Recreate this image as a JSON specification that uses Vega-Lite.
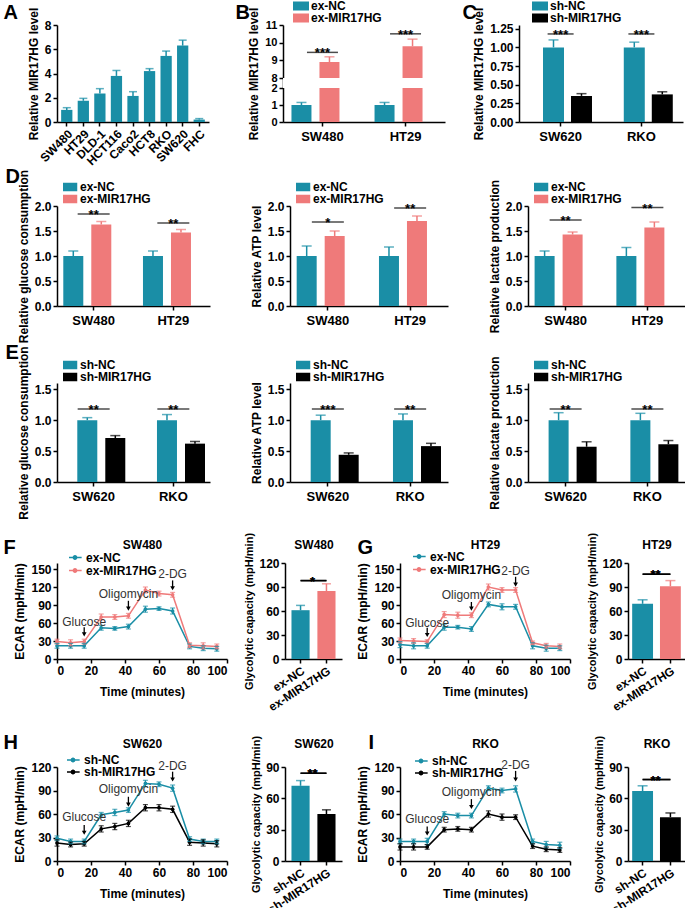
{
"$schema":"https://vega.github.io/schema/vega-lite/v6.json",
"background":"white",
"padding":{"left":3,"top":1,"right":0,"bottom":0},
"spacing":12,
"resolve":{"scale":{"color":"independent"},"legend":{"color":"independent"}},
"vconcat":[
{"spacing":-1,"resolve":{"scale":{"color":"independent"},"legend":{"color":"independent"}},"vconcat":[
{"bounds":"flush","spacing":74,"resolve":{"scale":{"color":"independent"},"legend":{"color":"independent"}},"hconcat":[
{"width":152,"height":97,
"data":{"values":[{"cell":"SW480","v":1.0,"hi":1.18},{"cell":"HT29","v":1.75,"hi":1.95},{"cell":"DLD-1","v":2.35,"hi":2.75},{"cell":"HCT116","v":3.8,"hi":4.25},{"cell":"Caco2","v":2.15,"hi":2.5},{"cell":"HCT8","v":4.2,"hi":4.4},{"cell":"RKO","v":5.45,"hi":5.85},{"cell":"SW620","v":6.3,"hi":6.75},{"cell":"FHC","v":0.2,"hi":0.28}]},
"resolve":{"axis":{"x":"independent"}},
"layer":[
{"mark":{"type":"bar","color":"#1a8ea6"},"encoding":{"x":{"field":"cell","type":"nominal","sort":null,"title":null,"scale":{"paddingInner":0.32,"paddingOuter":0.25},"axis":{"labelAngle":-45,"labelFontSize":12}},"y":{"field":"v","type":"quantitative","scale":{"domain":[0,8]},"axis":{"values":[0,2,4,6,8],"format":"d","tickCount":20,"labelOverlap":false},"title":"Relative MIR17HG level"}}},
{"mark":{"type":"rule","color":"#1a8ea6","strokeWidth":1.5},"encoding":{"x":{"field":"cell","type":"nominal","sort":null,"axis":null},"y":{"field":"v","type":"quantitative"},"y2":{"field":"hi"}}},
{"mark":{"type":"tick","orient":"horizontal","color":"#1a8ea6","thickness":1.5,"size":8},"encoding":{"x":{"field":"cell","type":"nominal","sort":null,"axis":{"orient":"top","labels":false,"ticks":false,"domain":false,"title":"A","titleX":-54,"titleY":-7,"titleAlign":"left","titleBaseline":"alphabetic","titleFontSize":20,"titleAngle":0}},"y":{"field":"hi","type":"quantitative"}}}
]},
{"width":162,"height":97,
"data":{"values":[{"cell":"SW480","g":"ex-NC","v":1.0,"hi":1.15},{"cell":"SW480","g":"ex-MIR17HG","v":8.9,"hi":9.2},{"cell":"HT29","g":"ex-NC","v":1.0,"hi":1.15},{"cell":"HT29","g":"ex-MIR17HG","v":9.8,"hi":10.2}]},
"resolve":{"axis":{"x":"independent"}},
"layer":[
{"mark":{"type":"bar","width":20},"encoding":{"x":{"field":"cell","type":"nominal","sort":["SW480","HT29"],"title":null,"scale":{"paddingInner":0.39,"paddingOuter":0.17},"axis":{"labelAngle":0,"labelFontSize":13,"labelPadding":4}},"xOffset":{"field":"g","type":"nominal","sort":["ex-NC","ex-MIR17HG"],"scale":{"paddingInner":0.38}},"y":{"field":"v","type":"quantitative","scale":{"domain":[0,2,8,11],"range":[97,63,53,0],"nice":false,"zero":false},"axis":{"values":[0,1,2,8,9,10,11],"format":"d","tickCount":20,"labelOverlap":false,"labelFontSize":11},"title":"Relative MIR17HG level"},"color":{"field":"g","type":"nominal","sort":["ex-NC","ex-MIR17HG"],"scale":{"domain":["ex-NC","ex-MIR17HG"],"range":["#1a8ea6","#ef7a7a"]},"legend":{"title":null,"orient":"none","legendX":10,"legendY":-24,"symbolType":"M-1.6,-0.7H1.6V0.7H-1.6Z","symbolSize":120,"labelFontSize":12,"clipHeight":10,"rowPadding":0}}}},
{"mark":{"type":"rect","color":"white"},"encoding":{"y":{"datum":2.05},"y2":{"datum":7.95}}},
{"mark":{"type":"rule","strokeWidth":1.5},"encoding":{"x":{"field":"cell","type":"nominal","sort":["SW480","HT29"],"axis":null},"xOffset":{"field":"g","type":"nominal","sort":["ex-NC","ex-MIR17HG"]},"y":{"field":"v","type":"quantitative"},"y2":{"field":"hi"},"color":{"field":"g","type":"nominal","legend":null}}},
{"mark":{"type":"tick","orient":"horizontal","thickness":1.5,"size":10},"encoding":{"x":{"field":"cell","type":"nominal","sort":["SW480","HT29"],"axis":null},"xOffset":{"field":"g","type":"nominal","sort":["ex-NC","ex-MIR17HG"]},"y":{"field":"hi","type":"quantitative"},"color":{"field":"g","type":"nominal","legend":null}}},
{"data":{"values":[{"cell":"SW480","s":9.45,"lab":"***"},{"cell":"HT29","s":10.5,"lab":"***"}]},"mark":{"type":"tick","orient":"horizontal","thickness":1.5,"size":31,"color":"black"},"encoding":{"x":{"field":"cell","type":"nominal","sort":["SW480","HT29"],"axis":null},"y":{"field":"s","type":"quantitative"}}},
{"data":{"values":[{"cell":"SW480","s":9.45,"lab":"***"},{"cell":"HT29","s":10.5,"lab":"***"}]},"mark":{"type":"text","fontWeight":"bold","fontSize":13,"baseline":"alphabetic","dy":5},"encoding":{"x":{"field":"cell","type":"nominal","sort":["SW480","HT29"],"axis":{"orient":"top","labels":false,"ticks":false,"domain":false,"title":"B","titleX":-48,"titleY":-7,"titleAlign":"left","titleBaseline":"alphabetic","titleFontSize":20,"titleAngle":0}},"y":{"field":"s","type":"quantitative"},"text":{"field":"lab"}}}
]},
{"width":164,"height":97,
"data":{"values":[{"cell":"SW620","g":"sh-NC","v":1.0,"hi":1.1},{"cell":"SW620","g":"sh-MIR17HG","v":0.35,"hi":0.38},{"cell":"RKO","g":"sh-NC","v":1.0,"hi":1.07},{"cell":"RKO","g":"sh-MIR17HG","v":0.37,"hi":0.405}]},
"resolve":{"axis":{"x":"independent"}},
"layer":[
{"mark":{"type":"bar","width":21},"encoding":{"x":{"field":"cell","type":"nominal","sort":["SW620","RKO"],"title":null,"scale":{"paddingInner":0.37,"paddingOuter":0.2},"axis":{"labelAngle":0,"labelFontSize":13,"labelPadding":4}},"xOffset":{"field":"g","type":"nominal","sort":["sh-NC","sh-MIR17HG"],"scale":{"paddingInner":0.33}},"y":{"field":"v","type":"quantitative","scale":{"domain":[0,1.25]},"axis":{"values":[0,0.25,0.5,0.75,1,1.25],"format":".2f","tickCount":20,"labelOverlap":false},"title":"Relative MIR17HG level"},"color":{"field":"g","type":"nominal","sort":["sh-NC","sh-MIR17HG"],"scale":{"domain":["sh-NC","sh-MIR17HG"],"range":["#1a8ea6","#000000"]},"legend":{"title":null,"orient":"none","legendX":13,"legendY":-24,"symbolType":"M-1.6,-0.7H1.6V0.7H-1.6Z","symbolSize":120,"labelFontSize":12,"clipHeight":10,"rowPadding":0}}}},
{"mark":{"type":"rule","strokeWidth":1.5},"encoding":{"x":{"field":"cell","type":"nominal","sort":["SW620","RKO"],"axis":null},"xOffset":{"field":"g","type":"nominal","sort":["sh-NC","sh-MIR17HG"]},"y":{"field":"v","type":"quantitative"},"y2":{"field":"hi"},"color":{"field":"g","type":"nominal","legend":null}}},
{"mark":{"type":"tick","orient":"horizontal","thickness":1.5,"size":10},"encoding":{"x":{"field":"cell","type":"nominal","sort":["SW620","RKO"],"axis":null},"xOffset":{"field":"g","type":"nominal","sort":["sh-NC","sh-MIR17HG"]},"y":{"field":"hi","type":"quantitative"},"color":{"field":"g","type":"nominal","legend":null}}},
{"data":{"values":[{"cell":"SW620","s":1.18,"lab":"***"},{"cell":"RKO","s":1.18,"lab":"***"}]},"mark":{"type":"tick","orient":"horizontal","thickness":1.5,"size":26,"color":"black"},"encoding":{"x":{"field":"cell","type":"nominal","sort":["SW620","RKO"],"axis":null},"y":{"field":"s","type":"quantitative"}}},
{"data":{"values":[{"cell":"SW620","s":1.18,"lab":"***"},{"cell":"RKO","s":1.18,"lab":"***"}]},"mark":{"type":"text","fontWeight":"bold","fontSize":13,"baseline":"alphabetic","dy":5},"encoding":{"x":{"field":"cell","type":"nominal","sort":["SW620","RKO"],"axis":{"orient":"top","labels":false,"ticks":false,"domain":false,"title":"C","titleX":-57,"titleY":-7,"titleAlign":"left","titleBaseline":"alphabetic","titleFontSize":20,"titleAngle":0}},"y":{"field":"s","type":"quantitative"},"text":{"field":"lab"}}}
]}
]},
{"bounds":"flush","spacing":80,"resolve":{"scale":{"color":"independent"},"legend":{"color":"independent"}},"hconcat":[
{"width":153,"height":100,
"data":{"values":[{"cell":"SW480","g":"ex-NC","v":1.0,"hi":1.1},{"cell":"SW480","g":"ex-MIR17HG","v":1.63,"hi":1.69},{"cell":"HT29","g":"ex-NC","v":1.0,"hi":1.1},{"cell":"HT29","g":"ex-MIR17HG","v":1.47,"hi":1.53}]},
"resolve":{"axis":{"x":"independent"}},
"layer":[
{"mark":{"type":"bar","width":20},"encoding":{"x":{"field":"cell","type":"nominal","sort":["SW480","HT29"],"title":null,"scale":{"paddingInner":0.38,"paddingOuter":0.15},"axis":{"labelAngle":0,"labelFontSize":13,"labelPadding":4}},"xOffset":{"field":"g","type":"nominal","sort":["ex-NC","ex-MIR17HG"],"scale":{"paddingInner":0.37}},"y":{"field":"v","type":"quantitative","scale":{"domain":[0,2]},"axis":{"values":[0,0.5,1,1.5,2],"format":".1f","tickCount":20,"labelOverlap":false},"title":"Relative glucose consumption"},"color":{"field":"g","type":"nominal","sort":["ex-NC","ex-MIR17HG"],"scale":{"domain":["ex-NC","ex-MIR17HG"],"range":["#1a8ea6","#ef7a7a"]},"legend":{"title":null,"orient":"none","legendX":6,"legendY":-24,"symbolType":"M-1.5,-0.7H1.5V0.7H-1.5Z","symbolSize":100,"labelFontSize":12,"clipHeight":10,"rowPadding":0}}}},
{"mark":{"type":"rule","strokeWidth":1.5},"encoding":{"x":{"field":"cell","type":"nominal","sort":["SW480","HT29"],"axis":null},"xOffset":{"field":"g","type":"nominal","sort":["ex-NC","ex-MIR17HG"]},"y":{"field":"v","type":"quantitative"},"y2":{"field":"hi"},"color":{"field":"g","type":"nominal","legend":null}}},
{"mark":{"type":"tick","orient":"horizontal","thickness":1.5,"size":10},"encoding":{"x":{"field":"cell","type":"nominal","sort":["SW480","HT29"],"axis":null},"xOffset":{"field":"g","type":"nominal","sort":["ex-NC","ex-MIR17HG"]},"y":{"field":"hi","type":"quantitative"},"color":{"field":"g","type":"nominal","legend":null}}},
{"data":{"values":[{"cell":"SW480","s":1.84,"lab":"**"},{"cell":"HT29","s":1.66,"lab":"**"}]},"mark":{"type":"tick","orient":"horizontal","thickness":1.5,"size":32,"color":"black"},"encoding":{"x":{"field":"cell","type":"nominal","sort":["SW480","HT29"],"axis":null},"y":{"field":"s","type":"quantitative"}}},
{"data":{"values":[{"cell":"SW480","s":1.84,"lab":"**"},{"cell":"HT29","s":1.66,"lab":"**"}]},"mark":{"type":"text","fontWeight":"bold","fontSize":13,"baseline":"alphabetic","dy":5},"encoding":{"x":{"field":"cell","type":"nominal","sort":["SW480","HT29"],"axis":{"orient":"top","labels":false,"ticks":false,"domain":false,"title":"D","titleX":-52,"titleY":-24,"titleAlign":"left","titleBaseline":"alphabetic","titleFontSize":20,"titleAngle":0}},"y":{"field":"s","type":"quantitative"},"text":{"field":"lab"}}}
]},
{"width":158,"height":100,
"data":{"values":[{"cell":"SW480","g":"ex-NC","v":1.0,"hi":1.2},{"cell":"SW480","g":"ex-MIR17HG","v":1.4,"hi":1.5},{"cell":"HT29","g":"ex-NC","v":1.0,"hi":1.18},{"cell":"HT29","g":"ex-MIR17HG","v":1.7,"hi":1.8}]},
"layer":[
{"mark":{"type":"bar","width":20},"encoding":{"x":{"field":"cell","type":"nominal","sort":["SW480","HT29"],"title":null,"scale":{"paddingInner":0.38,"paddingOuter":0.15},"axis":{"labelAngle":0,"labelFontSize":13,"labelPadding":4}},"xOffset":{"field":"g","type":"nominal","sort":["ex-NC","ex-MIR17HG"],"scale":{"paddingInner":0.37}},"y":{"field":"v","type":"quantitative","scale":{"domain":[0,2]},"axis":{"values":[0,0.5,1,1.5,2],"format":".1f","tickCount":20,"labelOverlap":false},"title":"Relative ATP level"},"color":{"field":"g","type":"nominal","sort":["ex-NC","ex-MIR17HG"],"scale":{"domain":["ex-NC","ex-MIR17HG"],"range":["#1a8ea6","#ef7a7a"]},"legend":{"title":null,"orient":"none","legendX":6,"legendY":-24,"symbolType":"M-1.5,-0.7H1.5V0.7H-1.5Z","symbolSize":100,"labelFontSize":12,"clipHeight":10,"rowPadding":0}}}},
{"mark":{"type":"rule","strokeWidth":1.5},"encoding":{"x":{"field":"cell","type":"nominal","sort":["SW480","HT29"],"title":null},"xOffset":{"field":"g","type":"nominal","sort":["ex-NC","ex-MIR17HG"]},"y":{"field":"v","type":"quantitative"},"y2":{"field":"hi"},"color":{"field":"g","type":"nominal","legend":null}}},
{"mark":{"type":"tick","orient":"horizontal","thickness":1.5,"size":10},"encoding":{"x":{"field":"cell","type":"nominal","sort":["SW480","HT29"],"title":null},"xOffset":{"field":"g","type":"nominal","sort":["ex-NC","ex-MIR17HG"]},"y":{"field":"hi","type":"quantitative"},"color":{"field":"g","type":"nominal","legend":null}}},
{"data":{"values":[{"cell":"SW480","s":1.68,"lab":"*"},{"cell":"HT29","s":1.96,"lab":"**"}]},"mark":{"type":"tick","orient":"horizontal","thickness":1.5,"size":32,"color":"black"},"encoding":{"x":{"field":"cell","type":"nominal","sort":["SW480","HT29"],"title":null},"y":{"field":"s","type":"quantitative"}}},
{"data":{"values":[{"cell":"SW480","s":1.68,"lab":"*"},{"cell":"HT29","s":1.96,"lab":"**"}]},"mark":{"type":"text","fontWeight":"bold","fontSize":13,"baseline":"alphabetic","dy":5},"encoding":{"x":{"field":"cell","type":"nominal","sort":["SW480","HT29"],"title":null},"y":{"field":"s","type":"quantitative"},"text":{"field":"lab"}}}
]},
{"width":157,"height":100,
"data":{"values":[{"cell":"SW480","g":"ex-NC","v":1.0,"hi":1.1},{"cell":"SW480","g":"ex-MIR17HG","v":1.43,"hi":1.48},{"cell":"HT29","g":"ex-NC","v":1.0,"hi":1.17},{"cell":"HT29","g":"ex-MIR17HG","v":1.57,"hi":1.68}]},
"layer":[
{"mark":{"type":"bar","width":20},"encoding":{"x":{"field":"cell","type":"nominal","sort":["SW480","HT29"],"title":null,"scale":{"paddingInner":0.38,"paddingOuter":0.15},"axis":{"labelAngle":0,"labelFontSize":13,"labelPadding":4}},"xOffset":{"field":"g","type":"nominal","sort":["ex-NC","ex-MIR17HG"],"scale":{"paddingInner":0.37}},"y":{"field":"v","type":"quantitative","scale":{"domain":[0,2]},"axis":{"values":[0,0.5,1,1.5,2],"format":".1f","tickCount":20,"labelOverlap":false},"title":"Relative lactate production"},"color":{"field":"g","type":"nominal","sort":["ex-NC","ex-MIR17HG"],"scale":{"domain":["ex-NC","ex-MIR17HG"],"range":["#1a8ea6","#ef7a7a"]},"legend":{"title":null,"orient":"none","legendX":6,"legendY":-24,"symbolType":"M-1.5,-0.7H1.5V0.7H-1.5Z","symbolSize":100,"labelFontSize":12,"clipHeight":10,"rowPadding":0}}}},
{"mark":{"type":"rule","strokeWidth":1.5},"encoding":{"x":{"field":"cell","type":"nominal","sort":["SW480","HT29"],"title":null},"xOffset":{"field":"g","type":"nominal","sort":["ex-NC","ex-MIR17HG"]},"y":{"field":"v","type":"quantitative"},"y2":{"field":"hi"},"color":{"field":"g","type":"nominal","legend":null}}},
{"mark":{"type":"tick","orient":"horizontal","thickness":1.5,"size":10},"encoding":{"x":{"field":"cell","type":"nominal","sort":["SW480","HT29"],"title":null},"xOffset":{"field":"g","type":"nominal","sort":["ex-NC","ex-MIR17HG"]},"y":{"field":"hi","type":"quantitative"},"color":{"field":"g","type":"nominal","legend":null}}},
{"data":{"values":[{"cell":"SW480","s":1.72,"lab":"**"},{"cell":"HT29","s":1.97,"lab":"**"}]},"mark":{"type":"tick","orient":"horizontal","thickness":1.5,"size":32,"color":"black"},"encoding":{"x":{"field":"cell","type":"nominal","sort":["SW480","HT29"],"title":null},"y":{"field":"s","type":"quantitative"}}},
{"data":{"values":[{"cell":"SW480","s":1.72,"lab":"**"},{"cell":"HT29","s":1.97,"lab":"**"}]},"mark":{"type":"text","fontWeight":"bold","fontSize":13,"baseline":"alphabetic","dy":5},"encoding":{"x":{"field":"cell","type":"nominal","sort":["SW480","HT29"],"title":null},"y":{"field":"s","type":"quantitative"},"text":{"field":"lab"}}}
]}
]},
{"bounds":"flush","spacing":80,"resolve":{"scale":{"color":"independent"},"legend":{"color":"independent"}},"hconcat":[
{"width":153,"height":99,
"data":{"values":[{"cell":"SW620","g":"sh-NC","v":1.0,"hi":1.04},{"cell":"SW620","g":"sh-MIR17HG","v":0.71,"hi":0.75},{"cell":"RKO","g":"sh-NC","v":1.0,"hi":1.09},{"cell":"RKO","g":"sh-MIR17HG","v":0.62,"hi":0.655}]},
"resolve":{"axis":{"x":"independent"}},
"layer":[
{"mark":{"type":"bar","width":20},"encoding":{"x":{"field":"cell","type":"nominal","sort":["SW620","RKO"],"title":null,"scale":{"paddingInner":0.38,"paddingOuter":0.15},"axis":{"labelAngle":0,"labelFontSize":13,"labelPadding":4}},"xOffset":{"field":"g","type":"nominal","sort":["sh-NC","sh-MIR17HG"],"scale":{"paddingInner":0.37}},"y":{"field":"v","type":"quantitative","scale":{"domain":[0,1.5]},"axis":{"values":[0,0.5,1,1.5],"format":".1f","tickCount":20,"labelOverlap":false},"title":"Relative glucose consumption"},"color":{"field":"g","type":"nominal","sort":["sh-NC","sh-MIR17HG"],"scale":{"domain":["sh-NC","sh-MIR17HG"],"range":["#1a8ea6","#000000"]},"legend":{"title":null,"orient":"none","legendX":6,"legendY":-23,"symbolType":"M-1.5,-0.7H1.5V0.7H-1.5Z","symbolSize":100,"labelFontSize":12,"clipHeight":10,"rowPadding":0}}}},
{"mark":{"type":"rule","strokeWidth":1.5},"encoding":{"x":{"field":"cell","type":"nominal","sort":["SW620","RKO"],"axis":null},"xOffset":{"field":"g","type":"nominal","sort":["sh-NC","sh-MIR17HG"]},"y":{"field":"v","type":"quantitative"},"y2":{"field":"hi"},"color":{"field":"g","type":"nominal","legend":null}}},
{"mark":{"type":"tick","orient":"horizontal","thickness":1.5,"size":10},"encoding":{"x":{"field":"cell","type":"nominal","sort":["SW620","RKO"],"axis":null},"xOffset":{"field":"g","type":"nominal","sort":["sh-NC","sh-MIR17HG"]},"y":{"field":"hi","type":"quantitative"},"color":{"field":"g","type":"nominal","legend":null}}},
{"data":{"values":[{"cell":"SW620","s":1.18,"lab":"**"},{"cell":"RKO","s":1.18,"lab":"**"}]},"mark":{"type":"tick","orient":"horizontal","thickness":1.5,"size":32,"color":"black"},"encoding":{"x":{"field":"cell","type":"nominal","sort":["SW620","RKO"],"axis":null},"y":{"field":"s","type":"quantitative"}}},
{"data":{"values":[{"cell":"SW620","s":1.18,"lab":"**"},{"cell":"RKO","s":1.18,"lab":"**"}]},"mark":{"type":"text","fontWeight":"bold","fontSize":13,"baseline":"alphabetic","dy":5},"encoding":{"x":{"field":"cell","type":"nominal","sort":["SW620","RKO"],"axis":{"orient":"top","labels":false,"ticks":false,"domain":false,"title":"E","titleX":-52,"titleY":-25,"titleAlign":"left","titleBaseline":"alphabetic","titleFontSize":20,"titleAngle":0}},"y":{"field":"s","type":"quantitative"},"text":{"field":"lab"}}}
]},
{"width":158,"height":99,
"data":{"values":[{"cell":"SW620","g":"sh-NC","v":1.0,"hi":1.08},{"cell":"SW620","g":"sh-MIR17HG","v":0.44,"hi":0.47},{"cell":"RKO","g":"sh-NC","v":1.0,"hi":1.1},{"cell":"RKO","g":"sh-MIR17HG","v":0.58,"hi":0.625}]},
"layer":[
{"mark":{"type":"bar","width":20},"encoding":{"x":{"field":"cell","type":"nominal","sort":["SW620","RKO"],"title":null,"scale":{"paddingInner":0.38,"paddingOuter":0.15},"axis":{"labelAngle":0,"labelFontSize":13,"labelPadding":4}},"xOffset":{"field":"g","type":"nominal","sort":["sh-NC","sh-MIR17HG"],"scale":{"paddingInner":0.37}},"y":{"field":"v","type":"quantitative","scale":{"domain":[0,1.5]},"axis":{"values":[0,0.5,1,1.5],"format":".1f","tickCount":20,"labelOverlap":false},"title":"Relative ATP level"},"color":{"field":"g","type":"nominal","sort":["sh-NC","sh-MIR17HG"],"scale":{"domain":["sh-NC","sh-MIR17HG"],"range":["#1a8ea6","#000000"]},"legend":{"title":null,"orient":"none","legendX":6,"legendY":-23,"symbolType":"M-1.5,-0.7H1.5V0.7H-1.5Z","symbolSize":100,"labelFontSize":12,"clipHeight":10,"rowPadding":0}}}},
{"mark":{"type":"rule","strokeWidth":1.5},"encoding":{"x":{"field":"cell","type":"nominal","sort":["SW620","RKO"],"title":null},"xOffset":{"field":"g","type":"nominal","sort":["sh-NC","sh-MIR17HG"]},"y":{"field":"v","type":"quantitative"},"y2":{"field":"hi"},"color":{"field":"g","type":"nominal","legend":null}}},
{"mark":{"type":"tick","orient":"horizontal","thickness":1.5,"size":10},"encoding":{"x":{"field":"cell","type":"nominal","sort":["SW620","RKO"],"title":null},"xOffset":{"field":"g","type":"nominal","sort":["sh-NC","sh-MIR17HG"]},"y":{"field":"hi","type":"quantitative"},"color":{"field":"g","type":"nominal","legend":null}}},
{"data":{"values":[{"cell":"SW620","s":1.18,"lab":"***"},{"cell":"RKO","s":1.18,"lab":"**"}]},"mark":{"type":"tick","orient":"horizontal","thickness":1.5,"size":32,"color":"black"},"encoding":{"x":{"field":"cell","type":"nominal","sort":["SW620","RKO"],"title":null},"y":{"field":"s","type":"quantitative"}}},
{"data":{"values":[{"cell":"SW620","s":1.18,"lab":"***"},{"cell":"RKO","s":1.18,"lab":"**"}]},"mark":{"type":"text","fontWeight":"bold","fontSize":13,"baseline":"alphabetic","dy":5},"encoding":{"x":{"field":"cell","type":"nominal","sort":["SW620","RKO"],"title":null},"y":{"field":"s","type":"quantitative"},"text":{"field":"lab"}}}
]},
{"width":157,"height":99,
"data":{"values":[{"cell":"SW620","g":"sh-NC","v":1.0,"hi":1.12},{"cell":"SW620","g":"sh-MIR17HG","v":0.57,"hi":0.65},{"cell":"RKO","g":"sh-NC","v":1.0,"hi":1.11},{"cell":"RKO","g":"sh-MIR17HG","v":0.61,"hi":0.67}]},
"layer":[
{"mark":{"type":"bar","width":20},"encoding":{"x":{"field":"cell","type":"nominal","sort":["SW620","RKO"],"title":null,"scale":{"paddingInner":0.38,"paddingOuter":0.15},"axis":{"labelAngle":0,"labelFontSize":13,"labelPadding":4}},"xOffset":{"field":"g","type":"nominal","sort":["sh-NC","sh-MIR17HG"],"scale":{"paddingInner":0.37}},"y":{"field":"v","type":"quantitative","scale":{"domain":[0,1.5]},"axis":{"values":[0,0.5,1,1.5],"format":".1f","tickCount":20,"labelOverlap":false},"title":"Relative lactate production"},"color":{"field":"g","type":"nominal","sort":["sh-NC","sh-MIR17HG"],"scale":{"domain":["sh-NC","sh-MIR17HG"],"range":["#1a8ea6","#000000"]},"legend":{"title":null,"orient":"none","legendX":6,"legendY":-23,"symbolType":"M-1.5,-0.7H1.5V0.7H-1.5Z","symbolSize":100,"labelFontSize":12,"clipHeight":10,"rowPadding":0}}}},
{"mark":{"type":"rule","strokeWidth":1.5},"encoding":{"x":{"field":"cell","type":"nominal","sort":["SW620","RKO"],"title":null},"xOffset":{"field":"g","type":"nominal","sort":["sh-NC","sh-MIR17HG"]},"y":{"field":"v","type":"quantitative"},"y2":{"field":"hi"},"color":{"field":"g","type":"nominal","legend":null}}},
{"mark":{"type":"tick","orient":"horizontal","thickness":1.5,"size":10},"encoding":{"x":{"field":"cell","type":"nominal","sort":["SW620","RKO"],"title":null},"xOffset":{"field":"g","type":"nominal","sort":["sh-NC","sh-MIR17HG"]},"y":{"field":"hi","type":"quantitative"},"color":{"field":"g","type":"nominal","legend":null}}},
{"data":{"values":[{"cell":"SW620","s":1.18,"lab":"**"},{"cell":"RKO","s":1.18,"lab":"**"}]},"mark":{"type":"tick","orient":"horizontal","thickness":1.5,"size":32,"color":"black"},"encoding":{"x":{"field":"cell","type":"nominal","sort":["SW620","RKO"],"title":null},"y":{"field":"s","type":"quantitative"}}},
{"data":{"values":[{"cell":"SW620","s":1.18,"lab":"**"},{"cell":"RKO","s":1.18,"lab":"**"}]},"mark":{"type":"text","fontWeight":"bold","fontSize":13,"baseline":"alphabetic","dy":5},"encoding":{"x":{"field":"cell","type":"nominal","sort":["SW620","RKO"],"title":null},"y":{"field":"s","type":"quantitative"},"text":{"field":"lab"}}}
]}
]}
]},
{"spacing":19,"resolve":{"scale":{"color":"independent"},"legend":{"color":"independent"}},"vconcat":[
{"bounds":"flush","spacing":58,"resolve":{"scale":{"color":"independent"},"legend":{"color":"independent"}},"hconcat":[
{"width":170,"height":96,
"data":{"values":[
{"t":0,"g":"ex-NC","v":22,"lo":18,"hi":26},{"t":8,"g":"ex-NC","v":22,"lo":18,"hi":26},{"t":16,"g":"ex-NC","v":22,"lo":18,"hi":26},{"t":26,"g":"ex-NC","v":52,"lo":48,"hi":56},{"t":34,"g":"ex-NC","v":51,"lo":48,"hi":54},{"t":42,"g":"ex-NC","v":54,"lo":50,"hi":58},{"t":52,"g":"ex-NC","v":83,"lo":78,"hi":88},{"t":60,"g":"ex-NC","v":84,"lo":81,"hi":87},{"t":68,"g":"ex-NC","v":80,"lo":75,"hi":85},{"t":78,"g":"ex-NC","v":21,"lo":17,"hi":25},{"t":86,"g":"ex-NC","v":18,"lo":14,"hi":22},{"t":94,"g":"ex-NC","v":17,"lo":13,"hi":21},
{"t":0,"g":"ex-MIR17HG","v":29,"lo":25,"hi":33},{"t":8,"g":"ex-MIR17HG","v":27,"lo":22,"hi":32},{"t":16,"g":"ex-MIR17HG","v":29,"lo":25,"hi":33},{"t":26,"g":"ex-MIR17HG","v":70,"lo":65,"hi":75},{"t":34,"g":"ex-MIR17HG","v":70,"lo":66,"hi":74},{"t":42,"g":"ex-MIR17HG","v":72,"lo":68,"hi":76},{"t":52,"g":"ex-MIR17HG","v":115,"lo":110,"hi":120},{"t":60,"g":"ex-MIR17HG","v":109,"lo":105,"hi":113},{"t":68,"g":"ex-MIR17HG","v":107,"lo":103,"hi":111},{"t":78,"g":"ex-MIR17HG","v":23,"lo":19,"hi":27},{"t":86,"g":"ex-MIR17HG","v":22,"lo":17,"hi":27},{"t":94,"g":"ex-MIR17HG","v":21,"lo":17,"hi":25}]},
"resolve":{"axis":{"x":"independent"}},
"layer":[
{"mark":{"type":"line","strokeWidth":1.5},"encoding":{"x":{"field":"t","type":"quantitative","scale":{"domain":[0,100]},"axis":{"values":[0,20,40,60,80,100],"format":"d","tickCount":20,"titlePadding":10,"labelOverlap":false},"title":"Time (minutes)"},"y":{"field":"v","type":"quantitative","scale":{"domain":[0,150]},"axis":{"values":[0,30,60,90,120,150],"format":"d","tickCount":20,"labelOverlap":false},"title":"ECAR (mpH/min)"},"color":{"field":"g","type":"nominal","sort":["ex-NC","ex-MIR17HG"],"scale":{"domain":["ex-NC","ex-MIR17HG"],"range":["#1a8ea6","#ef7a7a"]},"legend":{"title":null,"orient":"none","legendX":12,"legendY":-10,"symbolType":"M-1.4,0H1.4M-0.35,0A0.35,0.35,0,1,0,0.35,0A0.35,0.35,0,1,0,-0.35,0","symbolSize":90,"symbolStrokeWidth":1.5,"labelFontSize":12,"clipHeight":9,"rowPadding":0}}}},
{"mark":{"type":"point","filled":true,"size":14,"opacity":1},"encoding":{"x":{"field":"t","type":"quantitative","axis":null},"y":{"field":"v","type":"quantitative"},"color":{"field":"g","type":"nominal","legend":null}}},
{"mark":{"type":"rule","strokeWidth":1.2},"encoding":{"x":{"field":"t","type":"quantitative","axis":null},"y":{"field":"lo","type":"quantitative"},"y2":{"field":"hi"},"color":{"field":"g","type":"nominal","legend":null}}},
{"mark":{"type":"tick","orient":"horizontal","size":5,"thickness":1.2},"encoding":{"x":{"field":"t","type":"quantitative","axis":null},"y":{"field":"lo","type":"quantitative"},"color":{"field":"g","type":"nominal","legend":null}}},
{"mark":{"type":"tick","orient":"horizontal","size":5,"thickness":1.2},"encoding":{"x":{"field":"t","type":"quantitative","axis":null},"y":{"field":"hi","type":"quantitative"},"color":{"field":"g","type":"nominal","legend":null}}},
{"data":{"values":[{"lab":"Glucose","ax":16,"ty":62,"a1":53,"a2":41},{"lab":"Oligomycin","ax":42,"ty":108,"a1":97,"a2":84},{"lab":"2-DG","ax":68,"ty":142,"a1":131,"a2":118}]},"mark":{"type":"text","fontSize":12,"color":"#333333"},"encoding":{"x":{"field":"ax","type":"quantitative","axis":{"orient":"top","labels":false,"ticks":false,"domain":false,"title":"F","titleX":-54,"titleY":-10,"titleAlign":"left","titleBaseline":"alphabetic","titleFontSize":20,"titleAngle":0}},"y":{"field":"ty","type":"quantitative"},"text":{"field":"lab"}}},
{"data":{"values":[{"lab":"Glucose","ax":16,"ty":62,"a1":53,"a2":41},{"lab":"Oligomycin","ax":42,"ty":108,"a1":97,"a2":84},{"lab":"2-DG","ax":68,"ty":142,"a1":131,"a2":118}]},"mark":{"type":"rule","strokeWidth":1.3,"color":"black"},"encoding":{"x":{"field":"ax","type":"quantitative","axis":{"orient":"top","labels":false,"ticks":false,"domain":false,"title":"SW480","titleY":-15,"titleBaseline":"alphabetic","titleFontSize":12,"titleAngle":0}},"y":{"field":"a1","type":"quantitative"},"y2":{"field":"a2"}}},
{"data":{"values":[{"lab":"Glucose","ax":16,"ty":62,"a1":53,"a2":41},{"lab":"Oligomycin","ax":42,"ty":108,"a1":97,"a2":84},{"lab":"2-DG","ax":68,"ty":142,"a1":131,"a2":118}]},"mark":{"type":"point","shape":"triangle-down","filled":true,"size":22,"color":"black","opacity":1},"encoding":{"x":{"field":"ax","type":"quantitative","axis":null},"y":{"field":"a2","type":"quantitative"}}}
]},
{"width":57,"height":96,
"data":{"values":[{"g":"ex-NC","v":61,"hi":67},{"g":"ex-MIR17HG","v":85,"hi":94}]},
"resolve":{"axis":{"x":"independent"}},
"layer":[
{"mark":{"type":"bar"},"encoding":{"x":{"field":"g","type":"nominal","sort":["ex-NC","ex-MIR17HG"],"title":null,"scale":{"paddingInner":0.3,"paddingOuter":0.25},"axis":{"labelAngle":-33,"labelFontSize":12}},"y":{"field":"v","type":"quantitative","scale":{"domain":[0,120]},"axis":{"values":[0,30,60,90,120],"format":"d","tickCount":20,"titleFontSize":11,"labelOverlap":false},"title":"Glycolytic capacity (mpH/min)"},"color":{"field":"g","type":"nominal","scale":{"domain":["ex-NC","ex-MIR17HG"],"range":["#1a8ea6","#ef7a7a"]},"legend":null}}},
{"mark":{"type":"rule","strokeWidth":1.5},"encoding":{"x":{"field":"g","type":"nominal","sort":["ex-NC","ex-MIR17HG"],"axis":null},"y":{"field":"v","type":"quantitative"},"y2":{"field":"hi"},"color":{"field":"g","type":"nominal","legend":null}}},
{"mark":{"type":"tick","orient":"horizontal","thickness":1.5,"size":9},"encoding":{"x":{"field":"g","type":"nominal","sort":["ex-NC","ex-MIR17HG"],"axis":null},"y":{"field":"hi","type":"quantitative"},"color":{"field":"g","type":"nominal","legend":null}}},
{"mark":{"type":"rule","strokeWidth":1.5,"color":"black"},"encoding":{"x":{"datum":"ex-NC","type":"nominal","axis":null},"x2":{"datum":"ex-MIR17HG"},"y":{"datum":98,"type":"quantitative"}}},
{"mark":{"type":"text","fontSize":13,"fontWeight":"bold","baseline":"alphabetic","dy":5,"dx":12},"encoding":{"x":{"datum":"ex-NC","type":"nominal","axis":{"orient":"top","labels":false,"ticks":false,"domain":false,"title":"SW480","titleY":-15,"titleBaseline":"alphabetic","titleFontSize":12,"titleAngle":0}},"y":{"datum":98,"type":"quantitative"},"text":{"value":"*"}}}
]},
{"width":170,"height":96,
"data":{"values":[
{"t":0,"g":"ex-NC","v":24,"lo":19,"hi":29},{"t":8,"g":"ex-NC","v":22,"lo":17,"hi":27},{"t":16,"g":"ex-NC","v":22,"lo":18,"hi":26},{"t":26,"g":"ex-NC","v":53,"lo":48,"hi":58},{"t":34,"g":"ex-NC","v":53,"lo":50,"hi":56},{"t":42,"g":"ex-NC","v":50,"lo":46,"hi":54},{"t":52,"g":"ex-NC","v":91,"lo":87,"hi":95},{"t":60,"g":"ex-NC","v":87,"lo":82,"hi":92},{"t":68,"g":"ex-NC","v":87,"lo":83,"hi":91},{"t":78,"g":"ex-NC","v":22,"lo":17,"hi":27},{"t":86,"g":"ex-NC","v":18,"lo":13,"hi":23},{"t":94,"g":"ex-NC","v":18,"lo":14,"hi":22},
{"t":0,"g":"ex-MIR17HG","v":31,"lo":27,"hi":35},{"t":8,"g":"ex-MIR17HG","v":30,"lo":26,"hi":34},{"t":16,"g":"ex-MIR17HG","v":29,"lo":26,"hi":32},{"t":26,"g":"ex-MIR17HG","v":74,"lo":69,"hi":79},{"t":34,"g":"ex-MIR17HG","v":73,"lo":68,"hi":78},{"t":42,"g":"ex-MIR17HG","v":73,"lo":69,"hi":77},{"t":52,"g":"ex-MIR17HG","v":120,"lo":115,"hi":125},{"t":60,"g":"ex-MIR17HG","v":115,"lo":111,"hi":119},{"t":68,"g":"ex-MIR17HG","v":115,"lo":111,"hi":119},{"t":78,"g":"ex-MIR17HG","v":27,"lo":24,"hi":30},{"t":86,"g":"ex-MIR17HG","v":22,"lo":18,"hi":26},{"t":94,"g":"ex-MIR17HG","v":21,"lo":17,"hi":25}]},
"resolve":{"axis":{"x":"independent"}},
"layer":[
{"mark":{"type":"line","strokeWidth":1.5},"encoding":{"x":{"field":"t","type":"quantitative","scale":{"domain":[0,100]},"axis":{"values":[0,20,40,60,80,100],"format":"d","tickCount":20,"titlePadding":10,"labelOverlap":false},"title":"Time (minutes)"},"y":{"field":"v","type":"quantitative","scale":{"domain":[0,150]},"axis":{"values":[0,30,60,90,120,150],"format":"d","tickCount":20,"labelOverlap":false},"title":"ECAR (mpH/min)"},"color":{"field":"g","type":"nominal","sort":["ex-NC","ex-MIR17HG"],"scale":{"domain":["ex-NC","ex-MIR17HG"],"range":["#1a8ea6","#ef7a7a"]},"legend":{"title":null,"orient":"none","legendX":13,"legendY":-11,"symbolType":"M-1.4,0H1.4M-0.35,0A0.35,0.35,0,1,0,0.35,0A0.35,0.35,0,1,0,-0.35,0","symbolSize":90,"symbolStrokeWidth":1.5,"labelFontSize":12,"clipHeight":9,"rowPadding":0}}}},
{"mark":{"type":"point","filled":true,"size":14,"opacity":1},"encoding":{"x":{"field":"t","type":"quantitative","axis":null},"y":{"field":"v","type":"quantitative"},"color":{"field":"g","type":"nominal","legend":null}}},
{"mark":{"type":"rule","strokeWidth":1.2},"encoding":{"x":{"field":"t","type":"quantitative","axis":null},"y":{"field":"lo","type":"quantitative"},"y2":{"field":"hi"},"color":{"field":"g","type":"nominal","legend":null}}},
{"mark":{"type":"tick","orient":"horizontal","size":5,"thickness":1.2},"encoding":{"x":{"field":"t","type":"quantitative","axis":null},"y":{"field":"lo","type":"quantitative"},"color":{"field":"g","type":"nominal","legend":null}}},
{"mark":{"type":"tick","orient":"horizontal","size":5,"thickness":1.2},"encoding":{"x":{"field":"t","type":"quantitative","axis":null},"y":{"field":"hi","type":"quantitative"},"color":{"field":"g","type":"nominal","legend":null}}},
{"data":{"values":[{"lab":"Glucose","ax":16,"ty":60,"a1":52,"a2":40},{"lab":"Oligomycin","ax":42,"ty":107,"a1":95,"a2":84},{"lab":"2-DG","ax":68,"ty":146,"a1":137,"a2":124}]},"mark":{"type":"text","fontSize":12,"color":"#333333"},"encoding":{"x":{"field":"ax","type":"quantitative","axis":{"orient":"top","labels":false,"ticks":false,"domain":false,"title":"G","titleX":-43,"titleY":-10,"titleAlign":"left","titleBaseline":"alphabetic","titleFontSize":20,"titleAngle":0}},"y":{"field":"ty","type":"quantitative"},"text":{"field":"lab"}}},
{"data":{"values":[{"lab":"Glucose","ax":16,"ty":60,"a1":52,"a2":40},{"lab":"Oligomycin","ax":42,"ty":107,"a1":95,"a2":84},{"lab":"2-DG","ax":68,"ty":146,"a1":137,"a2":124}]},"mark":{"type":"rule","strokeWidth":1.3,"color":"black"},"encoding":{"x":{"field":"ax","type":"quantitative","axis":{"orient":"top","labels":false,"ticks":false,"domain":false,"title":"HT29","titleY":-15,"titleBaseline":"alphabetic","titleFontSize":12,"titleAngle":0}},"y":{"field":"a1","type":"quantitative"},"y2":{"field":"a2"}}},
{"data":{"values":[{"lab":"Glucose","ax":16,"ty":60,"a1":52,"a2":40},{"lab":"Oligomycin","ax":42,"ty":107,"a1":95,"a2":84},{"lab":"2-DG","ax":68,"ty":146,"a1":137,"a2":124}]},"mark":{"type":"point","shape":"triangle-down","filled":true,"size":22,"color":"black","opacity":1},"encoding":{"x":{"field":"ax","type":"quantitative","axis":null},"y":{"field":"a2","type":"quantitative"}}}
]},
{"width":57,"height":96,
"data":{"values":[{"g":"ex-NC","v":69,"hi":74},{"g":"ex-MIR17HG","v":91,"hi":98}]},
"resolve":{"axis":{"x":"independent"}},
"layer":[
{"mark":{"type":"bar"},"encoding":{"x":{"field":"g","type":"nominal","sort":["ex-NC","ex-MIR17HG"],"title":null,"scale":{"paddingInner":0.25,"paddingOuter":0.15},"axis":{"labelAngle":-33,"labelFontSize":12}},"y":{"field":"v","type":"quantitative","scale":{"domain":[0,120]},"axis":{"values":[0,30,60,90,120],"format":"d","tickCount":20,"titleFontSize":11,"labelOverlap":false},"title":"Glycolytic capacity (mpH/min)"},"color":{"field":"g","type":"nominal","scale":{"domain":["ex-NC","ex-MIR17HG"],"range":["#1a8ea6","#ef7a7a"]},"legend":null}}},
{"mark":{"type":"rule","strokeWidth":1.5},"encoding":{"x":{"field":"g","type":"nominal","sort":["ex-NC","ex-MIR17HG"],"axis":null},"y":{"field":"v","type":"quantitative"},"y2":{"field":"hi"},"color":{"field":"g","type":"nominal","legend":null}}},
{"mark":{"type":"tick","orient":"horizontal","thickness":1.5,"size":10},"encoding":{"x":{"field":"g","type":"nominal","sort":["ex-NC","ex-MIR17HG"],"axis":null},"y":{"field":"hi","type":"quantitative"},"color":{"field":"g","type":"nominal","legend":null}}},
{"mark":{"type":"rule","strokeWidth":1.5,"color":"black"},"encoding":{"x":{"datum":"ex-NC","type":"nominal","axis":null},"x2":{"datum":"ex-MIR17HG"},"y":{"datum":106,"type":"quantitative"}}},
{"mark":{"type":"text","fontSize":13,"fontWeight":"bold","baseline":"alphabetic","dy":5,"dx":13},"encoding":{"x":{"datum":"ex-NC","type":"nominal","axis":{"orient":"top","labels":false,"ticks":false,"domain":false,"title":"HT29","titleY":-15,"titleBaseline":"alphabetic","titleFontSize":12,"titleAngle":0}},"y":{"datum":106,"type":"quantitative"},"text":{"value":"**"}}}
]}
]},
{"bounds":"flush","spacing":58,"resolve":{"scale":{"color":"independent"},"legend":{"color":"independent"}},"hconcat":[
{"width":170,"height":94,
"data":{"values":[
{"t":0,"g":"sh-NC","v":29,"lo":26,"hi":32},{"t":8,"g":"sh-NC","v":25,"lo":22,"hi":28},{"t":16,"g":"sh-NC","v":25,"lo":22,"hi":28},{"t":26,"g":"sh-NC","v":59,"lo":56,"hi":62},{"t":34,"g":"sh-NC","v":62,"lo":58,"hi":66},{"t":42,"g":"sh-NC","v":65,"lo":62,"hi":68},{"t":52,"g":"sh-NC","v":99,"lo":95,"hi":103},{"t":60,"g":"sh-NC","v":98,"lo":95,"hi":101},{"t":68,"g":"sh-NC","v":93,"lo":89,"hi":97},{"t":78,"g":"sh-NC","v":28,"lo":25,"hi":31},{"t":86,"g":"sh-NC","v":25,"lo":22,"hi":28},{"t":94,"g":"sh-NC","v":25,"lo":22,"hi":28},
{"t":0,"g":"sh-MIR17HG","v":23,"lo":19,"hi":27},{"t":8,"g":"sh-MIR17HG","v":21,"lo":18,"hi":24},{"t":16,"g":"sh-MIR17HG","v":22,"lo":19,"hi":25},{"t":26,"g":"sh-MIR17HG","v":41,"lo":37,"hi":45},{"t":34,"g":"sh-MIR17HG","v":44,"lo":40,"hi":48},{"t":42,"g":"sh-MIR17HG","v":48,"lo":44,"hi":52},{"t":52,"g":"sh-MIR17HG","v":68,"lo":64,"hi":72},{"t":60,"g":"sh-MIR17HG","v":68,"lo":64,"hi":72},{"t":68,"g":"sh-MIR17HG","v":66,"lo":62,"hi":70},{"t":78,"g":"sh-MIR17HG","v":24,"lo":20,"hi":28},{"t":86,"g":"sh-MIR17HG","v":23,"lo":19,"hi":27},{"t":94,"g":"sh-MIR17HG","v":22,"lo":18,"hi":26}]},
"resolve":{"axis":{"x":"independent"}},
"layer":[
{"mark":{"type":"line","strokeWidth":1.5},"encoding":{"x":{"field":"t","type":"quantitative","scale":{"domain":[0,100]},"axis":{"values":[0,20,40,60,80,100],"format":"d","tickCount":20,"titlePadding":10,"labelOverlap":false},"title":"Time (minutes)"},"y":{"field":"v","type":"quantitative","scale":{"domain":[0,120]},"axis":{"values":[0,30,60,90,120],"format":"d","tickCount":20,"labelOverlap":false},"title":"ECAR (mpH/min)"},"color":{"field":"g","type":"nominal","sort":["sh-NC","sh-MIR17HG"],"scale":{"domain":["sh-NC","sh-MIR17HG"],"range":["#1a8ea6","#000000"]},"legend":{"title":null,"orient":"none","legendX":10,"legendY":-12,"symbolType":"M-1.4,0H1.4M-0.35,0A0.35,0.35,0,1,0,0.35,0A0.35,0.35,0,1,0,-0.35,0","symbolSize":90,"symbolStrokeWidth":1.5,"labelFontSize":12,"clipHeight":10,"rowPadding":0}}}},
{"mark":{"type":"point","filled":true,"size":14,"opacity":1},"encoding":{"x":{"field":"t","type":"quantitative","axis":null},"y":{"field":"v","type":"quantitative"},"color":{"field":"g","type":"nominal","legend":null}}},
{"mark":{"type":"rule","strokeWidth":1.2},"encoding":{"x":{"field":"t","type":"quantitative","axis":null},"y":{"field":"lo","type":"quantitative"},"y2":{"field":"hi"},"color":{"field":"g","type":"nominal","legend":null}}},
{"mark":{"type":"tick","orient":"horizontal","size":5,"thickness":1.2},"encoding":{"x":{"field":"t","type":"quantitative","axis":null},"y":{"field":"lo","type":"quantitative"},"color":{"field":"g","type":"nominal","legend":null}}},
{"mark":{"type":"tick","orient":"horizontal","size":5,"thickness":1.2},"encoding":{"x":{"field":"t","type":"quantitative","axis":null},"y":{"field":"hi","type":"quantitative"},"color":{"field":"g","type":"nominal","legend":null}}},
{"data":{"values":[{"lab":"Glucose","ax":16,"ty":56,"a1":46,"a2":36},{"lab":"Oligomycin","ax":42,"ty":92,"a1":82,"a2":72},{"lab":"2-DG","ax":68,"ty":121,"a1":114,"a2":104}]},"mark":{"type":"text","fontSize":12,"color":"#333333"},"encoding":{"x":{"field":"ax","type":"quantitative","axis":{"orient":"top","labels":false,"ticks":false,"domain":false,"title":"H","titleX":-54,"titleY":-19,"titleAlign":"left","titleBaseline":"alphabetic","titleFontSize":20,"titleAngle":0}},"y":{"field":"ty","type":"quantitative"},"text":{"field":"lab"}}},
{"data":{"values":[{"lab":"Glucose","ax":16,"ty":56,"a1":46,"a2":36},{"lab":"Oligomycin","ax":42,"ty":92,"a1":82,"a2":72},{"lab":"2-DG","ax":68,"ty":121,"a1":114,"a2":104}]},"mark":{"type":"rule","strokeWidth":1.3,"color":"black"},"encoding":{"x":{"field":"ax","type":"quantitative","axis":{"orient":"top","labels":false,"ticks":false,"domain":false,"title":"SW620","titleY":-20,"titleBaseline":"alphabetic","titleFontSize":12,"titleAngle":0}},"y":{"field":"a1","type":"quantitative"},"y2":{"field":"a2"}}},
{"data":{"values":[{"lab":"Glucose","ax":16,"ty":56,"a1":46,"a2":36},{"lab":"Oligomycin","ax":42,"ty":92,"a1":82,"a2":72},{"lab":"2-DG","ax":68,"ty":121,"a1":114,"a2":104}]},"mark":{"type":"point","shape":"triangle-down","filled":true,"size":22,"color":"black","opacity":1},"encoding":{"x":{"field":"ax","type":"quantitative","axis":null},"y":{"field":"a2","type":"quantitative"}}}
]},
{"width":57,"height":94,
"data":{"values":[{"g":"sh-NC","v":72,"hi":77},{"g":"sh-MIR17HG","v":45,"hi":49}]},
"resolve":{"axis":{"x":"independent"}},
"layer":[
{"mark":{"type":"bar"},"encoding":{"x":{"field":"g","type":"nominal","sort":["sh-NC","sh-MIR17HG"],"title":null,"scale":{"paddingInner":0.3,"paddingOuter":0.25},"axis":{"labelAngle":-33,"labelFontSize":12}},"y":{"field":"v","type":"quantitative","scale":{"domain":[0,90]},"axis":{"values":[0,30,60,90],"format":"d","tickCount":20,"titleFontSize":11,"labelOverlap":false},"title":"Glycolytic capacity (mpH/min)"},"color":{"field":"g","type":"nominal","scale":{"domain":["sh-NC","sh-MIR17HG"],"range":["#1a8ea6","#000000"]},"legend":null}}},
{"mark":{"type":"rule","strokeWidth":1.5},"encoding":{"x":{"field":"g","type":"nominal","sort":["sh-NC","sh-MIR17HG"],"axis":null},"y":{"field":"v","type":"quantitative"},"y2":{"field":"hi"},"color":{"field":"g","type":"nominal","legend":null}}},
{"mark":{"type":"tick","orient":"horizontal","thickness":1.5,"size":9},"encoding":{"x":{"field":"g","type":"nominal","sort":["sh-NC","sh-MIR17HG"],"axis":null},"y":{"field":"hi","type":"quantitative"},"color":{"field":"g","type":"nominal","legend":null}}},
{"mark":{"type":"rule","strokeWidth":1.5,"color":"black"},"encoding":{"x":{"datum":"sh-NC","type":"nominal","axis":null},"x2":{"datum":"sh-MIR17HG"},"y":{"datum":84,"type":"quantitative"}}},
{"mark":{"type":"text","fontSize":13,"fontWeight":"bold","baseline":"alphabetic","dy":5,"dx":12},"encoding":{"x":{"datum":"sh-NC","type":"nominal","axis":{"orient":"top","labels":false,"ticks":false,"domain":false,"title":"SW620","titleY":-20,"titleBaseline":"alphabetic","titleFontSize":12,"titleAngle":0}},"y":{"datum":84,"type":"quantitative"},"text":{"value":"**"}}}
]},
{"width":170,"height":94,
"data":{"values":[
{"t":0,"g":"sh-NC","v":25,"lo":22,"hi":28},{"t":8,"g":"sh-NC","v":25,"lo":22,"hi":28},{"t":16,"g":"sh-NC","v":25,"lo":21,"hi":29},{"t":26,"g":"sh-NC","v":60,"lo":57,"hi":63},{"t":34,"g":"sh-NC","v":58,"lo":55,"hi":61},{"t":42,"g":"sh-NC","v":58,"lo":55,"hi":61},{"t":52,"g":"sh-NC","v":93,"lo":90,"hi":96},{"t":60,"g":"sh-NC","v":90,"lo":87,"hi":93},{"t":68,"g":"sh-NC","v":92,"lo":88,"hi":96},{"t":78,"g":"sh-NC","v":25,"lo":22,"hi":28},{"t":86,"g":"sh-NC","v":21,"lo":17,"hi":25},{"t":94,"g":"sh-NC","v":20,"lo":16,"hi":24},
{"t":0,"g":"sh-MIR17HG","v":18,"lo":14,"hi":22},{"t":8,"g":"sh-MIR17HG","v":18,"lo":14,"hi":22},{"t":16,"g":"sh-MIR17HG","v":18,"lo":15,"hi":21},{"t":26,"g":"sh-MIR17HG","v":40,"lo":37,"hi":43},{"t":34,"g":"sh-MIR17HG","v":41,"lo":38,"hi":44},{"t":42,"g":"sh-MIR17HG","v":40,"lo":37,"hi":43},{"t":52,"g":"sh-MIR17HG","v":60,"lo":56,"hi":64},{"t":60,"g":"sh-MIR17HG","v":56,"lo":52,"hi":60},{"t":68,"g":"sh-MIR17HG","v":56,"lo":53,"hi":59},{"t":78,"g":"sh-MIR17HG","v":19,"lo":16,"hi":22},{"t":86,"g":"sh-MIR17HG","v":15,"lo":12,"hi":18},{"t":94,"g":"sh-MIR17HG","v":14,"lo":11,"hi":17}]},
"resolve":{"axis":{"x":"independent"}},
"layer":[
{"mark":{"type":"line","strokeWidth":1.5},"encoding":{"x":{"field":"t","type":"quantitative","scale":{"domain":[0,100]},"axis":{"values":[0,20,40,60,80,100],"format":"d","tickCount":20,"titlePadding":10,"labelOverlap":false},"title":"Time (minutes)"},"y":{"field":"v","type":"quantitative","scale":{"domain":[0,120]},"axis":{"values":[0,30,60,90,120],"format":"d","tickCount":20,"labelOverlap":false},"title":"ECAR (mpH/min)"},"color":{"field":"g","type":"nominal","sort":["sh-NC","sh-MIR17HG"],"scale":{"domain":["sh-NC","sh-MIR17HG"],"range":["#1a8ea6","#000000"]},"legend":{"title":null,"orient":"none","legendX":15,"legendY":-11,"symbolType":"M-1.4,0H1.4M-0.35,0A0.35,0.35,0,1,0,0.35,0A0.35,0.35,0,1,0,-0.35,0","symbolSize":90,"symbolStrokeWidth":1.5,"labelFontSize":12,"clipHeight":10,"rowPadding":0}}}},
{"mark":{"type":"point","filled":true,"size":14,"opacity":1},"encoding":{"x":{"field":"t","type":"quantitative","axis":null},"y":{"field":"v","type":"quantitative"},"color":{"field":"g","type":"nominal","legend":null}}},
{"mark":{"type":"rule","strokeWidth":1.2},"encoding":{"x":{"field":"t","type":"quantitative","axis":null},"y":{"field":"lo","type":"quantitative"},"y2":{"field":"hi"},"color":{"field":"g","type":"nominal","legend":null}}},
{"mark":{"type":"tick","orient":"horizontal","size":5,"thickness":1.2},"encoding":{"x":{"field":"t","type":"quantitative","axis":null},"y":{"field":"lo","type":"quantitative"},"color":{"field":"g","type":"nominal","legend":null}}},
{"mark":{"type":"tick","orient":"horizontal","size":5,"thickness":1.2},"encoding":{"x":{"field":"t","type":"quantitative","axis":null},"y":{"field":"hi","type":"quantitative"},"color":{"field":"g","type":"nominal","legend":null}}},
{"data":{"values":[{"lab":"Glucose","ax":16,"ty":54,"a1":44,"a2":35},{"lab":"Oligomycin","ax":42,"ty":88,"a1":79,"a2":69},{"lab":"2-DG","ax":68,"ty":123,"a1":115,"a2":104}]},"mark":{"type":"text","fontSize":12,"color":"#333333"},"encoding":{"x":{"field":"ax","type":"quantitative","axis":{"orient":"top","labels":false,"ticks":false,"domain":false,"title":"I","titleX":-32,"titleY":-19,"titleAlign":"left","titleBaseline":"alphabetic","titleFontSize":20,"titleAngle":0}},"y":{"field":"ty","type":"quantitative"},"text":{"field":"lab"}}},
{"data":{"values":[{"lab":"Glucose","ax":16,"ty":54,"a1":44,"a2":35},{"lab":"Oligomycin","ax":42,"ty":88,"a1":79,"a2":69},{"lab":"2-DG","ax":68,"ty":123,"a1":115,"a2":104}]},"mark":{"type":"rule","strokeWidth":1.3,"color":"black"},"encoding":{"x":{"field":"ax","type":"quantitative","axis":{"orient":"top","labels":false,"ticks":false,"domain":false,"title":"RKO","titleY":-20,"titleBaseline":"alphabetic","titleFontSize":12,"titleAngle":0}},"y":{"field":"a1","type":"quantitative"},"y2":{"field":"a2"}}},
{"data":{"values":[{"lab":"Glucose","ax":16,"ty":54,"a1":44,"a2":35},{"lab":"Oligomycin","ax":42,"ty":88,"a1":79,"a2":69},{"lab":"2-DG","ax":68,"ty":123,"a1":115,"a2":104}]},"mark":{"type":"point","shape":"triangle-down","filled":true,"size":22,"color":"black","opacity":1},"encoding":{"x":{"field":"ax","type":"quantitative","axis":null},"y":{"field":"a2","type":"quantitative"}}}
]},
{"width":57,"height":94,
"data":{"values":[{"g":"sh-NC","v":67,"hi":72},{"g":"sh-MIR17HG","v":42,"hi":46}]},
"resolve":{"axis":{"x":"independent"}},
"layer":[
{"mark":{"type":"bar"},"encoding":{"x":{"field":"g","type":"nominal","sort":["sh-NC","sh-MIR17HG"],"title":null,"scale":{"paddingInner":0.25,"paddingOuter":0.15},"axis":{"labelAngle":-33,"labelFontSize":12}},"y":{"field":"v","type":"quantitative","scale":{"domain":[0,90]},"axis":{"values":[0,30,60,90],"format":"d","tickCount":20,"titleFontSize":11,"labelOverlap":false},"title":"Glycolytic capacity (mpH/min)"},"color":{"field":"g","type":"nominal","scale":{"domain":["sh-NC","sh-MIR17HG"],"range":["#1a8ea6","#000000"]},"legend":null}}},
{"mark":{"type":"rule","strokeWidth":1.5},"encoding":{"x":{"field":"g","type":"nominal","sort":["sh-NC","sh-MIR17HG"],"axis":null},"y":{"field":"v","type":"quantitative"},"y2":{"field":"hi"},"color":{"field":"g","type":"nominal","legend":null}}},
{"mark":{"type":"tick","orient":"horizontal","thickness":1.5,"size":10},"encoding":{"x":{"field":"g","type":"nominal","sort":["sh-NC","sh-MIR17HG"],"axis":null},"y":{"field":"hi","type":"quantitative"},"color":{"field":"g","type":"nominal","legend":null}}},
{"mark":{"type":"rule","strokeWidth":1.5,"color":"black"},"encoding":{"x":{"datum":"sh-NC","type":"nominal","axis":null},"x2":{"datum":"sh-MIR17HG"},"y":{"datum":78,"type":"quantitative"}}},
{"mark":{"type":"text","fontSize":13,"fontWeight":"bold","baseline":"alphabetic","dy":5,"dx":13},"encoding":{"x":{"datum":"sh-NC","type":"nominal","axis":{"orient":"top","labels":false,"ticks":false,"domain":false,"title":"RKO","titleY":-20,"titleBaseline":"alphabetic","titleFontSize":12,"titleAngle":0}},"y":{"datum":78,"type":"quantitative"},"text":{"value":"**"}}}
]}
]}
]}
],
"config":{
"font":"Liberation Sans",
"view":{"stroke":null},
"axis":{"grid":false,"domainColor":"#000000","domainWidth":1.5,"tickColor":"#000000","tickWidth":1.5,"tickSize":4,"labelColor":"#000000","labelFontWeight":"bold","labelFontSize":12,"labelFont":"Liberation Sans","titleFont":"Liberation Sans","titleFontWeight":"bold","titleFontSize":12,"titleColor":"#000000","labelPadding":2,"titlePadding":4},
"legend":{"labelFont":"Liberation Sans","labelFontWeight":"bold","labelColor":"#000000","labelFontSize":12,"labelOffset":5},
"text":{"font":"Liberation Sans"}
}
}
